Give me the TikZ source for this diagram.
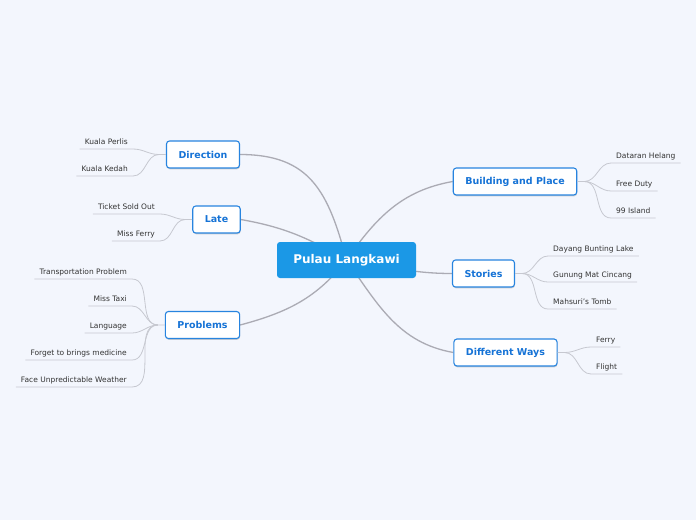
\documentclass[tikz,border=0pt]{standalone}
\usepackage{fontspec}
\setmainfont{DejaVu Sans}
\usetikzlibrary{backgrounds,shadows}

\definecolor{paper}{HTML}{F3F6FD}
\definecolor{rootblue}{HTML}{1B98E6}
\definecolor{edgeblue}{HTML}{2784DF}
\definecolor{labelblue}{HTML}{1673D6}
\definecolor{limbgray}{HTML}{ABABB4}
\definecolor{twiggray}{HTML}{C6C8D0}

\begin{document}
\begin{tikzpicture}[x=1pt,y=-1pt,
  root/.style={fill=rootblue, rounded corners=3pt, text=white, font=\fontsize{12}{14}\selectfont\bfseries, minimum width=139pt, minimum height=36pt},
  branch/.style={draw=edgeblue, line width=1.1pt, fill=white, rounded corners=3pt, text=labelblue, font=\fontsize{9.5}{11}\selectfont\bfseries, inner xsep=12pt, minimum height=27pt, drop shadow={shadow xshift=0.4pt, shadow yshift=-1.3pt, opacity=0.35}},
  leaf/.style={text=black!80, font=\fontsize{7.5}{9}\selectfont, inner xsep=5pt, inner ysep=2.5pt, text height=5.5pt, text depth=2pt},
  limb/.style={draw=limbgray, line width=1.3pt},
  twig/.style={draw=twiggray, line width=0.8pt}]
  \useasboundingbox (0,0) rectangle (696,520);

  \node (root) [root] at (346.5,260) {Pulau Langkawi};
  \node (dir) [branch] at (203,154.5) {Direction};
  \node (late) [branch] at (216.5,219.5) {Late};
  \node (prob) [branch] at (202.5,325) {Problems};
  \node (build) [branch] at (515,181.5) {Building and Place};
  \node (story) [branch] at (483.5,273.5) {Stories};
  \node (ways) [branch] at (505.5,352.5) {Different Ways};

  % left leaves
  \node (perlis) [leaf, anchor=south east] at (133,149) {Kuala Perlis};
  \node (kedah) [leaf, anchor=south east] at (133,176) {Kuala Kedah};
  \node (sold) [leaf, anchor=south east] at (160,214) {Ticket Sold Out};
  \node (mferry) [leaf, anchor=south east] at (160,241) {Miss Ferry};
  \node (trans) [leaf, anchor=south east] at (132,279) {Transportation Problem};
  \node (taxi) [leaf, anchor=south east] at (132,306) {Miss Taxi};
  \node (lang) [leaf, anchor=south east] at (132,333) {Language};
  \node (medic) [leaf, anchor=south east] at (132,360) {Forget to brings medicine};
  \node (weather) [leaf, anchor=south east] at (132,387) {Face Unpredictable Weather};

  % right leaves
  \node (helang) [leaf, anchor=south west] at (611,163) {Dataran Helang};
  \node (duty) [leaf, anchor=south west] at (611,191) {Free Duty};
  \node (island) [leaf, anchor=south west] at (611,218) {99 Island};
  \node (dayang) [leaf, anchor=south west] at (548,256) {Dayang Bunting Lake};
  \node (gunung) [leaf, anchor=south west] at (548,282) {Gunung Mat Cincang};
  \node (mahsuri) [leaf, anchor=south west] at (548,309) {Mahsuri's Tomb};
  \node (ferry) [leaf, anchor=south west] at (591,347) {Ferry};
  \node (flight) [leaf, anchor=south west] at (591,374) {Flight};

  \coordinate (dirhub) at ([xshift=-7pt]dir.west);
  \coordinate (latehub) at ([xshift=-7pt]late.west);
  \coordinate (probhub) at ([xshift=-7pt]prob.west);
  \coordinate (buildhub) at ([xshift=7pt]build.east);
  \coordinate (storyhub) at ([xshift=7pt]story.east);
  \coordinate (wayshub) at ([xshift=7pt]ways.east);

  \begin{scope}[on background layer]
    \fill[paper] (0,0) rectangle (696,520);
    \draw[limb] (root.center) to[out=105,in=0,looseness=1.2] (dir.east);
    \draw[limb] (root.center) to[out=150,in=-10] (late.east);
    \draw[limb] (root.center) to[out=232,in=15] (prob.east);
    \draw[limb] (root.center) to[out=55,in=190] (build.west);
    \draw[limb] (root.center) to[out=-8,in=180] (story.west);
    \draw[limb] (root.center) to[out=-55,in=170] (ways.west);
  \end{scope}

  \draw[twig] (dir.west) -- (dirhub) to[out=180,in=0] (perlis.south east) -- (perlis.south west);
  \draw[twig] (dirhub) to[out=180,in=0] (kedah.south east) -- (kedah.south west);
  \draw[twig] (late.west) -- (latehub) to[out=180,in=0] (sold.south east) -- (sold.south west);
  \draw[twig] (latehub) to[out=180,in=0] (mferry.south east) -- (mferry.south west);
  \draw[twig] (prob.west) -- (probhub) to[out=180,in=0] (trans.south east) -- (trans.south west);
  \draw[twig] (probhub) to[out=180,in=0] (taxi.south east) -- (taxi.south west);
  \draw[twig] (probhub) to[out=180,in=0] (lang.south east) -- (lang.south west);
  \draw[twig] (probhub) to[out=180,in=0] (medic.south east) -- (medic.south west);
  \draw[twig] (probhub) to[out=180,in=0] (weather.south east) -- (weather.south west);

  \draw[twig] (build.east) -- (buildhub) to[out=0,in=180] (helang.south west) -- (helang.south east);
  \draw[twig] (buildhub) to[out=0,in=180] (duty.south west) -- (duty.south east);
  \draw[twig] (buildhub) to[out=0,in=180] (island.south west) -- (island.south east);
  \draw[twig] (story.east) -- (storyhub) to[out=0,in=180] (dayang.south west) -- (dayang.south east);
  \draw[twig] (storyhub) to[out=0,in=180] (gunung.south west) -- (gunung.south east);
  \draw[twig] (storyhub) to[out=0,in=180] (mahsuri.south west) -- (mahsuri.south east);
  \draw[twig] (ways.east) -- (wayshub) to[out=0,in=180] (ferry.south west) -- (ferry.south east);
  \draw[twig] (wayshub) to[out=0,in=180] (flight.south west) -- (flight.south east);
\end{tikzpicture}
\end{document}
